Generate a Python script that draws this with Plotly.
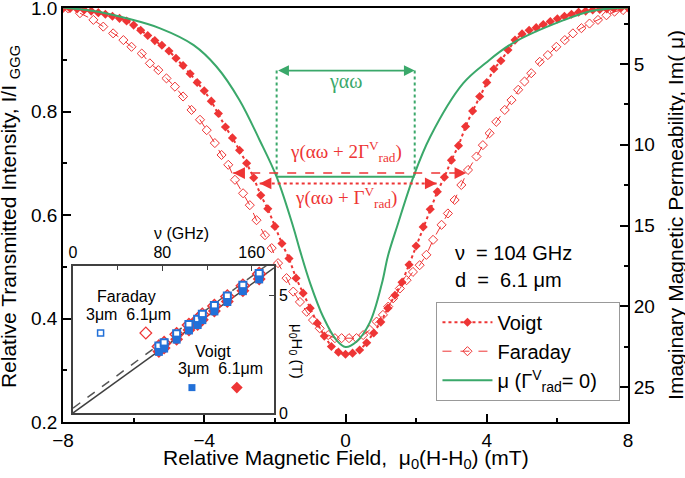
import plotly.graph_objects as go

# ---------------- data ----------------
voigt_field = [-8.0, -7.8, -7.6, -7.4, -7.2, -7.0, -6.8, -6.6, -6.4, -6.2, -6.0, -5.8, -5.6, -5.4,
               -5.2, -5.0, -4.8, -4.6, -4.4, -4.2, -4.0, -3.8, -3.6, -3.4, -3.2, -3.0, -2.8, -2.6,
               -2.4, -2.2, -2.0, -1.8, -1.6, -1.4, -1.2, -1.0, -0.8, -0.6, -0.4, -0.2, 0.0, 0.2,
               0.4, 0.6, 0.8, 1.0, 1.2, 1.4, 1.6, 1.8, 2.0, 2.2, 2.4, 2.6, 2.8, 3.0, 3.2, 3.4,
               3.6, 3.8, 4.0, 4.2, 4.4, 4.6, 4.8, 5.0, 5.2, 5.4, 5.6, 5.8, 6.0, 6.2, 6.4, 6.6,
               6.8, 7.0, 7.2, 7.4, 7.6, 7.8, 8.0]
voigt_T = [1.000, 0.999, 0.998, 0.996, 0.994, 0.991, 0.988, 0.984, 0.980, 0.975, 0.967, 0.957,
           0.947, 0.937, 0.928, 0.917, 0.903, 0.889, 0.873, 0.856, 0.840, 0.820, 0.796, 0.770,
           0.749, 0.725, 0.700, 0.672, 0.638, 0.612, 0.578, 0.545, 0.516, 0.478, 0.449, 0.420,
           0.391, 0.366, 0.346, 0.335, 0.331, 0.333, 0.339, 0.353, 0.372, 0.393, 0.420, 0.445,
           0.470, 0.504, 0.540, 0.577, 0.611, 0.645, 0.673, 0.706, 0.734, 0.771, 0.801, 0.829,
           0.856, 0.882, 0.898, 0.919, 0.938, 0.950, 0.957, 0.962, 0.968, 0.974, 0.979, 0.984,
           0.988, 0.992, 0.994, 0.996, 0.997, 0.998, 0.999, 1.000, 1.000]

faraday_field = [-8.0, -7.85, -7.52, -7.14, -6.86, -6.58, -6.29, -6.06, -5.77, -5.54, -5.30, -5.07,
                 -4.83, -4.60, -4.36, -4.12, -3.93, -3.70, -3.51, -3.32, -3.13, -2.90, -2.71, -2.52,
                 -2.28, -2.09, -1.91, -1.67, -1.48, -1.29, -1.10, -0.92, -0.73, -0.49, -0.30, -0.11,
                 0.10, 0.31, 0.50, 0.69, 0.88, 1.06, 1.21, 1.35, 1.54, 1.73, 1.91, 2.10, 2.29, 2.48,
                 2.72, 2.90, 3.09, 3.28, 3.47, 3.71, 3.89, 4.08, 4.27, 4.51, 4.70, 4.89, 5.07, 5.26,
                 5.50, 5.73, 5.97, 6.21, 6.44, 6.68, 6.91, 7.15, 7.39, 7.62, 7.86]
faraday_T = [1.000, 0.999, 0.990, 0.977, 0.964, 0.951, 0.938, 0.925, 0.912, 0.893, 0.880, 0.864,
             0.848, 0.829, 0.803, 0.784, 0.764, 0.739, 0.716, 0.697, 0.668, 0.642, 0.619, 0.590,
             0.561, 0.536, 0.507, 0.478, 0.452, 0.432, 0.413, 0.397, 0.381, 0.368, 0.362, 0.362,
             0.362, 0.362, 0.368, 0.378, 0.394, 0.407, 0.423, 0.439, 0.458, 0.474, 0.490, 0.503,
             0.523, 0.552, 0.581, 0.603, 0.629, 0.658, 0.687, 0.713, 0.735, 0.758, 0.780, 0.803,
             0.822, 0.842, 0.858, 0.874, 0.896, 0.909, 0.925, 0.938, 0.951, 0.961, 0.970, 0.977,
             0.986, 0.993, 0.996]

mu_field = [-8.0, -7.14, -6.2, -5.25, -4.3, -3.65, -3.0, -2.43, -1.95, -1.48, -1.29, -1.0, -0.63,
            -0.25, 0.0, 0.3, 0.69, 1.03, 1.2, 1.47, 1.92, 2.4, 3.33, 3.99, 4.74, 6.16, 7.0, 8.0]
mu_im = [1.5, 1.72, 2.17, 2.79, 3.83, 5.17, 7.24, 9.72, 11.99, 15.09, 16.54, 18.58, 20.67,
         22.12, 22.53, 22.22, 21.0, 18.6, 16.9, 15.0, 12.0, 9.5, 6.2, 4.9, 3.7, 2.3, 1.7, 1.5]

# inset: resonance field vs frequency
inset_freq = [76.9, 81.6, 92.8, 103.8, 111.6, 115.8, 126.6, 138.2, 152.1, 166.7]
faraday_3um_H = [2.85, 2.99, 3.37, 3.76, 3.99, 4.20, 4.57, 4.97, 5.43, 5.93]
faraday_6um_H = [2.83, 2.97, 3.35, 3.74, 3.97, 4.18, 4.55, 4.95, 5.41, 5.91]
voigt_3um_H = [2.60, 2.74, 3.12, 3.51, 3.74, 3.95, 4.32, 4.72, 5.18, 5.68]
voigt_6um_H = [2.62, 2.76, 3.14, 3.53, 3.76, 3.97, 4.34, 4.74, 5.20, 5.70]
fit_freq = [0, 180]
voigt_fit_H = [0.0, 6.17]
faraday_fit_H = [0.21, 6.51]

# widths marked on the main plot (field positions, level)
green_width = [-1.95, 1.96]
green_arrow_level = 0.879
green_half_level = 0.674
faraday_width = [-3.18, 3.42]
faraday_half_level = 0.681
voigt_width = [-2.43, 2.58]
voigt_half_level = 0.661

# ---------------- style ----------------
RED = "#ee3535"
GREEN = "#3aa86a"
BLUE = "#2270d8"
GREY = "#404040"
FONT = "Liberation Sans, Arial, sans-serif"
SERIF = "Liberation Serif, Times New Roman, serif"

fig = go.Figure()

fig.add_trace(go.Scatter(x=voigt_field, y=voigt_T, name="Voigt", mode="lines+markers",
                         line=dict(color=RED, width=2, dash="dot"),
                         marker=dict(symbol="diamond", size=7, color=RED)))
fig.add_trace(go.Scatter(x=faraday_field, y=faraday_T, name="Faraday", mode="lines+markers",
                         line=dict(color=RED, width=1, dash="dash"),
                         marker=dict(symbol="diamond-open", size=7, color=RED,
                                     line=dict(width=1, color=RED))))
fig.add_trace(go.Scatter(x=mu_field, y=mu_im, name="μ (Γ<sup>V</sup><sub>rad</sub>= 0)\u00a0\u00a0\u00a0",
                         mode="lines", yaxis="y2",
                         line=dict(color=GREEN, width=2, shape="spline", smoothing=1.0)))

# inset traces
fig.add_trace(go.Scatter(x=fit_freq, y=faraday_fit_H, mode="lines", xaxis="x2", yaxis="y3",
                         line=dict(color="#555555", width=1.5, dash="dash"), showlegend=False))
fig.add_trace(go.Scatter(x=fit_freq, y=voigt_fit_H, mode="lines", xaxis="x2", yaxis="y3",
                         line=dict(color=GREY, width=1.5), showlegend=False))
fig.add_trace(go.Scatter(x=inset_freq, y=faraday_6um_H, mode="markers", xaxis="x2", yaxis="y3",
                         marker=dict(symbol="diamond-open", size=10, color=RED, line=dict(width=1.5, color=RED)),
                         showlegend=False))
fig.add_trace(go.Scatter(x=inset_freq, y=voigt_6um_H, mode="markers", xaxis="x2", yaxis="y3",
                         marker=dict(symbol="diamond", size=10, color=RED), showlegend=False))
fig.add_trace(go.Scatter(x=inset_freq, y=faraday_3um_H, mode="markers", xaxis="x2", yaxis="y3",
                         marker=dict(symbol="square", size=7, color="white", line=dict(width=2, color=BLUE)),
                         showlegend=False))
fig.add_trace(go.Scatter(x=inset_freq, y=voigt_3um_H, mode="markers", xaxis="x2", yaxis="y3",
                         marker=dict(symbol="square", size=8, color=BLUE), showlegend=False))

# inset key markers (legend keys placed in inset coordinates)
KEY_POS = {"far3": (24.7, 3.40), "far6": (65.2, 3.40), "voi3": (106.5, 1.08), "voi6": (146.7, 1.08)}
fig.add_trace(go.Scatter(x=[KEY_POS["far3"][0]], y=[KEY_POS["far3"][1]], mode="markers", xaxis="x2", yaxis="y3",
                         marker=dict(symbol="square", size=6, color="white", line=dict(width=1.5, color=BLUE)),
                         showlegend=False))
fig.add_trace(go.Scatter(x=[KEY_POS["far6"][0]], y=[KEY_POS["far6"][1]], mode="markers", xaxis="x2", yaxis="y3",
                         marker=dict(symbol="diamond-open", size=9, color=RED, line=dict(width=1.2, color=RED)),
                         showlegend=False))
fig.add_trace(go.Scatter(x=[KEY_POS["voi3"][0]], y=[KEY_POS["voi3"][1]], mode="markers", xaxis="x2", yaxis="y3",
                         marker=dict(symbol="square", size=7, color=BLUE), showlegend=False))
fig.add_trace(go.Scatter(x=[KEY_POS["voi6"][0]], y=[KEY_POS["voi6"][1]], mode="markers", xaxis="x2", yaxis="y3",
                         marker=dict(symbol="diamond", size=9, color=RED), showlegend=False))

# ---------------- shapes & arrows ----------------
shapes = []
for xv in green_width:
    shapes.append(dict(type="line", xref="x", yref="y", x0=xv, x1=xv, y0=green_arrow_level,
                       y1=green_half_level, line=dict(color=GREEN, width=2, dash="dot")))
shapes.append(dict(type="line", xref="x", yref="y", x0=green_width[0], x1=green_width[1],
                   y0=green_half_level, y1=green_half_level, line=dict(color=GREEN, width=2)))
shapes.append(dict(type="line", xref="x", yref="y", x0=faraday_width[0], x1=faraday_width[1],
                   y0=faraday_half_level, y1=faraday_half_level, line=dict(color=RED, width=1.5, dash="dash")))
shapes.append(dict(type="line", xref="x", yref="y", x0=voigt_width[0], x1=voigt_width[1],
                   y0=voigt_half_level, y1=voigt_half_level, line=dict(color=RED, width=2, dash="dot")))

annotations = []
annotations.append(dict(x=green_width[1], y=green_arrow_level, ax=green_width[0], ay=green_arrow_level,
                        xref="x", yref="y", axref="x", ayref="y", text="", showarrow=True,
                        arrowhead=2, arrowside="end+start", arrowsize=1.2, arrowwidth=1.8, arrowcolor=GREEN))
for (xv, lvl) in [(faraday_width[0], faraday_half_level), (voigt_width[0], voigt_half_level)]:
    annotations.append(dict(x=xv, y=lvl, ax=xv + 0.3, ay=lvl, xref="x", yref="y", axref="x", ayref="y",
                            text="", showarrow=True, arrowhead=2, arrowsize=1.3, arrowwidth=1.8, arrowcolor=RED))
for (xv, lvl) in [(faraday_width[1], faraday_half_level), (voigt_width[1], voigt_half_level)]:
    annotations.append(dict(x=xv, y=lvl, ax=xv - 0.3, ay=lvl, xref="x", yref="y", axref="x", ayref="y",
                            text="", showarrow=True, arrowhead=2, arrowsize=1.3, arrowwidth=1.8, arrowcolor=RED))

annotations.append(dict(x=0, y=0.858, xref="x", yref="y", text="γαω", showarrow=False,
                        font=dict(family=SERIF, size=20, color=GREEN)))
annotations.append(dict(x=0, y=0.722, xref="x", yref="y", text="γ(αω + 2Γ<sup>V</sup><sub>rad</sub>)",
                        showarrow=False, font=dict(family=SERIF, size=19, color=RED)))
annotations.append(dict(x=0, y=0.633, xref="x", yref="y", text="γ(αω + Γ<sup>V</sup><sub>rad</sub>)",
                        showarrow=False, font=dict(family=SERIF, size=19, color=RED)))
annotations.append(dict(x=3.05, y=0.527, xref="x", yref="y", xanchor="left",
                        text="ν\u00a0\u00a0= 104 GHz", showarrow=False, font=dict(family=FONT, size=20, color="black")))
annotations.append(dict(x=3.05, y=0.474, xref="x", yref="y", xanchor="left",
                        text="d\u00a0\u00a0=\u00a0\u00a06.1 μm", showarrow=False, font=dict(family=FONT, size=20, color="black")))

# inset labels
annotations.append(dict(x=47.8, y=4.95, xref="x2", yref="y3", text="Faraday", showarrow=False,
                        font=dict(family=FONT, size=16, color="black")))
annotations.append(dict(x=49.3, y=4.20, xref="x2", yref="y3", text="3μm\u00a0\u00a06.1μm", showarrow=False,
                        font=dict(family=FONT, size=16, color="black")))
annotations.append(dict(x=125.7, y=2.61, xref="x2", yref="y3", text="Voigt", showarrow=False,
                        font=dict(family=FONT, size=16, color="black")))
annotations.append(dict(x=131.7, y=1.90, xref="x2", yref="y3", text="3μm\u00a0\u00a06.1μm", showarrow=False,
                        font=dict(family=FONT, size=16, color="black")))
annotations.append(dict(x=0.414, y=0.169, xref="paper", yref="paper", xanchor="center", yanchor="middle",
                        text="μ<sub>0</sub>H<sub>0</sub> (T)",
                        textangle=90, showarrow=False, font=dict(family=FONT, size=15, color="black")))
annotations.append(dict(x=0.209, y=0.4565, xref="paper", yref="paper", xanchor="center", yanchor="middle",
                        text="ν (GHz)", showarrow=False, font=dict(family=FONT, size=16, color="black")))

# axis titles
annotations.append(dict(x=0.5, y=-0.089, xref="paper", yref="paper", xanchor="center", yanchor="middle",
                        text="Relative Magnetic Field,\u00a0\u00a0μ<sub>0</sub>(H-H<sub>0</sub>) (mT)",
                        showarrow=False, font=dict(family=FONT, size=21, color="black")))
annotations.append(dict(x=-0.0938, y=0.495, xref="paper", yref="paper", xanchor="center", yanchor="middle",
                        textangle=-90,
                        text="Relative Transmitted Intensity, I/I <sub>GGG</sub>",
                        showarrow=False, font=dict(family=FONT, size=21, color="black")))
annotations.append(dict(x=1.083, y=0.5, xref="paper", yref="paper", xanchor="center", yanchor="middle",
                        textangle=-90,
                        text="Imaginary Magnetic Permeability, Im( μ)",
                        showarrow=False, font=dict(family=FONT, size=21, color="black")))

axis_common = dict(showline=True, linecolor="black", linewidth=1.8, ticks="inside", ticklen=8,
                   tickwidth=1.5, tickcolor="black", showgrid=False, zeroline=False, automargin=False,
                   ticklabeloverflow="allow",
                   tickfont=dict(family=FONT, size=19, color="black"))

fig.update_layout(
    width=685, height=478,
    margin=dict(l=63, r=57, t=8, b=56, autoexpand=False),
    paper_bgcolor="white", plot_bgcolor="white",
    font=dict(family=FONT, size=18, color="black"),
    xaxis=dict(range=[-8, 8], tickvals=[-8, -4, 0, 4, 8], mirror=True,
               minor=dict(dtick=2, ticks="inside", ticklen=4, tickwidth=1.5, tickcolor="black"),
               **axis_common),
    yaxis=dict(range=[0.2, 1.0], dtick=0.2, tickformat=".1f",
               minor=dict(dtick=0.1, ticks="inside", ticklen=4, tickwidth=1.5, tickcolor="black"),
               **axis_common),
    yaxis2=dict(range=[27.17, 1.53], overlaying="y", side="right", tickvals=[5, 10, 15, 20, 25],
                minor=dict(dtick=2.5, tick0=0, ticks="inside", ticklen=4, tickwidth=1.5, tickcolor="black"),
                **axis_common),
    xaxis2=dict(domain=[0.0177, 0.3735], anchor="y3", side="top", range=[0, 180],
                tickvals=[0, 80, 160], showline=True, mirror=True, linecolor=GREY, linewidth=1.5,
                ticks="inside", ticklen=5, tickcolor=GREY, showgrid=False, zeroline=False,
                minor=dict(dtick=40, ticks="inside", ticklen=4, tickcolor=GREY), automargin=False,
                tickfont=dict(family=FONT, size=16)),
    yaxis3=dict(domain=[0.0217, 0.3768], anchor="x2", side="right", range=[0, 6.25],
                tickvals=[0, 5], showline=True, mirror=True, linecolor=GREY, linewidth=1.5,
                ticks="inside", ticklen=5, tickcolor=GREY, showgrid=False, zeroline=False, automargin=False,
                tickfont=dict(family=FONT, size=16)),
    legend=dict(x=0.661, y=0.2906, xanchor="left", yanchor="top", bgcolor="white",
                bordercolor="#999999", borderwidth=1, itemwidth=50,
                font=dict(family=FONT, size=20, color="black"), tracegroupgap=0),
    shapes=shapes,
    annotations=annotations,
)

fig.write_html("out.html", config={"displayModeBar": False},
               post_script="document.body.style.margin='0';document.body.style.padding='0';")
